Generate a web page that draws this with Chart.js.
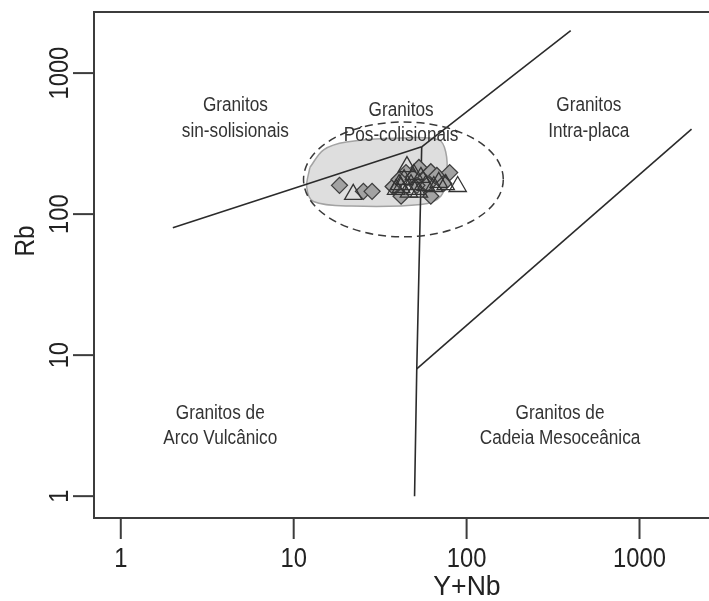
<!DOCTYPE html>
<html>
<head>
<meta charset="utf-8">
<script src="https://cdn.jsdelivr.net/npm/chart.js@4.4.0/dist/chart.umd.min.js"></script>
<style>
  html, body { margin: 0; padding: 0; background: #fff; overflow: hidden; }
</style>
</head>
<body>
<canvas id="chart" width="709" height="601"></canvas>
<script>
// samples: diamonds (gray) and open triangles
const diamondX = [18.4, 25.3, 28.4, 37.6, 41.8, 44.6, 48.9, 53.0, 58.1, 62.1, 59.7, 67.3, 79.8, 73.8, 62.1, 51.6, 40.7];
const diamondY = [160, 145, 145, 157, 134, 197, 182, 214, 182, 200, 162, 188, 197, 165, 134, 160, 176];
const triangleX = [22.1, 45.2, 40.7, 43.5, 47.7, 39.1, 50.9, 54.4, 46.4, 58.1, 69.0, 75.7, 88.8, 49.6, 64.6, 41.8, 53.0];
const triangleY = [138, 217, 162, 176, 162, 150, 150, 182, 143, 160, 168, 162, 157, 191, 157, 155, 143];

// Pearce (1984) field boundaries
const synVagX = [2, 55];
const synVagY = [80, 300];
const wpgSynX = [55, 400];
const wpgSynY = [300, 2000];
const vagWpgX = [55, 51.5, 50];
const vagWpgY = [300, 8, 1];
const orgX = [51.5, 2000];
const orgY = [8, 400];

// shaded post-collisional field
const fieldX = [12.4, 14.9, 20.2, 41.8, 69.0, 75.7, 76.7, 70.9, 54.4, 21.5, 13.0, 11.9, 12.4];
const fieldY = [214, 286, 325, 347, 336, 277, 191, 134, 117, 114, 123, 155, 214];

// dashed ellipse extents (data units)
const ellipseX = [11.4, 163];
const ellipseY = [69, 450];

const tickValues = [1, 10, 100, 1000];
const tickLabels = ['1', '10', '100', '1000'];

const fieldNames = [
    { x: 4.6, y: 601, text: 'Granitos' },
    { x: 4.6, y: 395, text: 'sin-solisionais' },
    { x: 41.8, y: 554, text: 'Granitos' },
    { x: 41.8, y: 370, text: 'Pós-colisionais' },
    { x: 509, y: 601, text: 'Granitos' },
    { x: 509, y: 395, text: 'Intra-placa' },
    { x: 3.76, y: 3.95, text: 'Granitos de' },
    { x: 3.76, y: 2.64, text: 'Arco Vulcânico' },
    { x: 347, y: 3.95, text: 'Granitos de' },
    { x: 347, y: 2.64, text: 'Cadeia Mesoceânica' }
];

function pts(xs, ys) {
    return xs.map(function (x, i) { return { x: x, y: ys[i] }; });
}

function boundary(xs, ys) {
    return {
        data: pts(xs, ys),
        showLine: true,
        borderColor: '#2b2b2b',
        borderWidth: 1.6,
        pointRadius: 0,
        fill: false,
        order: 5
    };
}

// text slightly condensed, like the original
function squishText(ctx, text, x, y, size, rot, sx) {
    ctx.save();
    ctx.translate(x, y);
    if (rot) ctx.rotate(rot);
    ctx.scale(sx || 0.86, 1);
    ctx.font = size + 'px "Liberation Sans", Arial, sans-serif';
    ctx.textAlign = 'center';
    ctx.textBaseline = 'alphabetic';
    ctx.fillText(text, 0, size * 0.358);
    ctx.restore();
}

const decorPlugin = {
    id: 'decor',
    afterDatasetsDraw: function (chart) {
        const ctx = chart.ctx;
        const xs = chart.scales.x, ys = chart.scales.y;
        const x0 = xs.getPixelForValue(ellipseX[0]), x1 = xs.getPixelForValue(ellipseX[1]);
        const y0 = ys.getPixelForValue(ellipseY[0]), y1 = ys.getPixelForValue(ellipseY[1]);
        ctx.save();
        ctx.beginPath();
        ctx.ellipse((x0 + x1) / 2, (y0 + y1) / 2, Math.abs(x1 - x0) / 2, Math.abs(y1 - y0) / 2, 0, 0, Math.PI * 2);
        ctx.setLineDash([8, 5]);
        ctx.strokeStyle = '#3a3a3a';
        ctx.lineWidth = 1.5;
        ctx.stroke();
        ctx.restore();
    },
    afterDraw: function (chart) {
        const ctx = chart.ctx;
        const area = chart.chartArea;
        const xs = chart.scales.x, ys = chart.scales.y;
        ctx.save();
        ctx.fillStyle = '#333';
        fieldNames.forEach(function (f) {
            squishText(ctx, f.text, xs.getPixelForValue(f.x), ys.getPixelForValue(f.y), 20, 0);
        });

        // box (open on the right, as cropped)
        ctx.strokeStyle = '#3c3c3c';
        ctx.lineWidth = 2;
        ctx.beginPath();
        ctx.moveTo(area.right + 2, area.top);
        ctx.lineTo(area.left, area.top);
        ctx.lineTo(area.left, area.bottom);
        ctx.lineTo(area.right + 2, area.bottom);
        ctx.stroke();

        ctx.fillStyle = '#222';
        tickValues.forEach(function (v, i) {
            const px = xs.getPixelForValue(v);
            ctx.beginPath();
            ctx.moveTo(px, area.bottom);
            ctx.lineTo(px, area.bottom + 21);
            ctx.stroke();
            squishText(ctx, tickLabels[i], px, area.bottom + 39, 27, 0, 0.88);

            const py = ys.getPixelForValue(v);
            ctx.beginPath();
            ctx.moveTo(area.left, py);
            ctx.lineTo(area.left - 21, py);
            ctx.stroke();
            squishText(ctx, tickLabels[i], area.left - 36, py, 27, -Math.PI / 2, 0.88);
        });

        squishText(ctx, 'Y+Nb', 467, 585, 28, 0, 0.95);
        squishText(ctx, 'Rb', 24, 241, 27, -Math.PI / 2, 0.9);
        ctx.restore();
    }
};

const chart = new Chart(document.getElementById('chart').getContext('2d'), {
    type: 'scatter',
    data: {
        datasets: [
            {
                data: pts(fieldX, fieldY),
                showLine: true,
                tension: 0.35,
                fill: 'shape',
                backgroundColor: '#dedede',
                borderColor: '#a3a3a3',
                borderWidth: 1.5,
                pointRadius: 0,
                order: 10
            },
            boundary(synVagX, synVagY),
            boundary(wpgSynX, wpgSynY),
            boundary(vagWpgX, vagWpgY),
            boundary(orgX, orgY),
            {
                data: pts(diamondX, diamondY),
                pointStyle: 'rectRot',
                pointRadius: 8,
                backgroundColor: '#a2a2a2',
                borderColor: '#3d3d3d',
                borderWidth: 1.3,
                order: 2
            },
            {
                data: pts(triangleX, triangleY),
                pointStyle: 'triangle',
                pointRadius: 10,
                backgroundColor: 'rgba(0,0,0,0)',
                borderColor: '#333',
                borderWidth: 1.3,
                order: 1
            }
        ]
    },
    options: {
        responsive: false,
        animation: false,
        layout: { autoPadding: false, padding: { left: 94, top: 12, right: 0, bottom: 83 } },
        plugins: {
            legend: { display: false },
            tooltip: { enabled: false }
        },
        scales: {
            x: { type: 'logarithmic', display: false, min: 0.738, max: 2523 },
            y: { type: 'logarithmic', display: false, min: 0.738, max: 2712 }
        }
    },
    plugins: [decorPlugin]
});
</script>
</body>
</html>
